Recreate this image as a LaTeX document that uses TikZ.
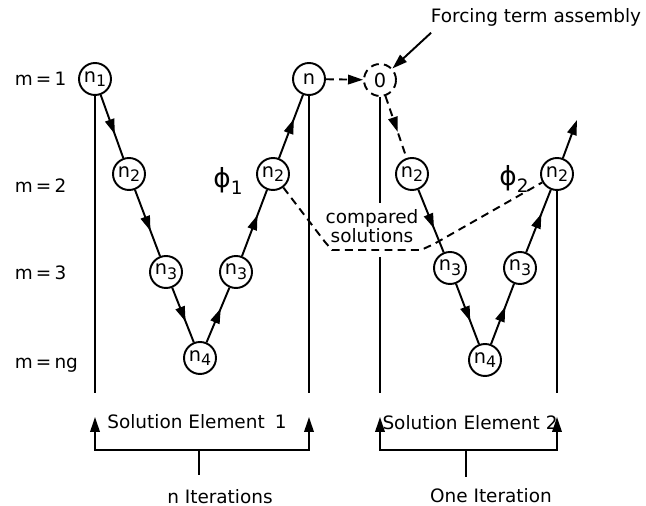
\documentclass[tikz,border=0pt]{standalone}
\usepackage{fontspec}
\setmainfont{DejaVu Sans}
\usetikzlibrary{arrows.meta,decorations.markings}

\newcommand{\nsub}[1]{n\raisebox{-.45ex}{\fontsize{9}{9}\selectfont #1}}
\newcommand{\phisub}[1]{{\fontsize{15}{15}\selectfont ϕ}\raisebox{-.7ex}{#1}}

\begin{document}
\begin{tikzpicture}[x=.02cm,y=-.02cm,line width=1.1pt,
          every node/.style={font=\fontsize{10.5}{10.5}\selectfont},
          tip/.style={-{Triangle[length=3mm,width=1.9mm]}},
          dashline/.style={dash pattern=on 4.5pt off 3pt},
          stage/.style={circle,draw,minimum size=.64cm,inner sep=0pt,font=\fontsize{11}{11}\selectfont},
          flow/.style={postaction={decorate},decoration={markings,
              mark=at position #1 with {\arrow{Triangle[length=3mm,width=1.9mm]}}}},
          flow/.default=.62,
          lvl/.style={anchor=west,inner sep=0pt}]
        \useasboundingbox (0,0) rectangle (646,506);

        \foreach \y/\t in {79/1,186/2,273/3,365/ng}
          \node[lvl] (m\t) at (14,\y) {m\,=\,\t};

        \node[stage] (a1) at (95,79) {\nsub1};
        \node[stage] (a2) at (129,174) {\nsub2};
        \node[stage] (a3) at (166,272) {\nsub3};
        \node[stage] (a4) at (200,358) {\nsub4};
        \node[stage] (a5) at (236,272) {\nsub3};
        \node[stage] (a6) at (273,174) {\nsub2};
        \node[stage] (a7) at (309,79) {n};

        \node[stage,dashline] (b0) at (380,80) {0};
        \node[stage] (b2) at (412,174) {\nsub2};
        \node[stage] (b3) at (450,268) {\nsub3};
        \node[stage] (b4) at (485,360) {\nsub4};
        \node[stage] (b5) at (520,268) {\nsub3};
        \node[stage] (b6) at (557,174) {\nsub2};
        \coordinate (bout) at (577,120);

        \node (phi1) at (228,181) {\phisub1};
        \node (phi2) at (514,179) {\phisub2};
        \node (force) at (536,17) {Forcing term assembly};

        \foreach \p/\q in {a1/a2,a2/a3,a3/a4,a4/a5,a5/a6,a6/a7,b2/b3,b3/b4,b4/b5,b5/b6}
          \draw[flow] (\p)--(\q);
        \draw[tip] (b6)--(bout);
        \draw[flow=.58,dashline] (b0)--(b2);
        \draw[tip,dashline] (a7)--(b0);
        \draw[tip] ([xshift=4pt]force.south west)--(b0);

        \coordinate (base) at (0,393);
        \coordinate (gaptop) at (0,203);
        \coordinate (gapbot) at (0,257);
        \coordinate (head) at (0,417);
        \coordinate (foot) at (0,450);
        \draw (a1)--(a1|-base);
        \draw (a7)--(a7|-base);
        \draw (b0)--(b0|-gaptop);
        \draw (b0|-gapbot)--(b0|-base);
        \draw (b6)--(b6|-base);

        \node[align=center] (cmp) at (372,226) {compared\\solutions};
        \draw[dashline] (a6)--(325,242)--(332,250)--(421,250)--(434,244)--(b6);

        \node (el1) at (197,422) {Solution Element\hspace{.55em}1};
        \node (el2) at (470,423) {Solution Element 2};
        \draw[{Triangle[length=3mm,width=1.9mm]}-{Triangle[length=3mm,width=1.9mm]}]
          (a1|-head)--(a1|-foot)--(a7|-foot)--(a7|-head);
        \draw[{Triangle[length=3mm,width=1.9mm]}-{Triangle[length=3mm,width=1.9mm]}]
          (b0|-head)--(b0|-foot)--(b6|-foot)--(b6|-head);

        \coordinate (s1) at (199,475);
        \coordinate (s2) at (466,477);
        \draw (s1)--(s1|-foot);
        \draw (s2)--(s2|-foot);
        \node (it1) at (220,497) {n Iterations};
        \node (it2) at (491,496) {One Iteration};
      \end{tikzpicture}
\end{document}
